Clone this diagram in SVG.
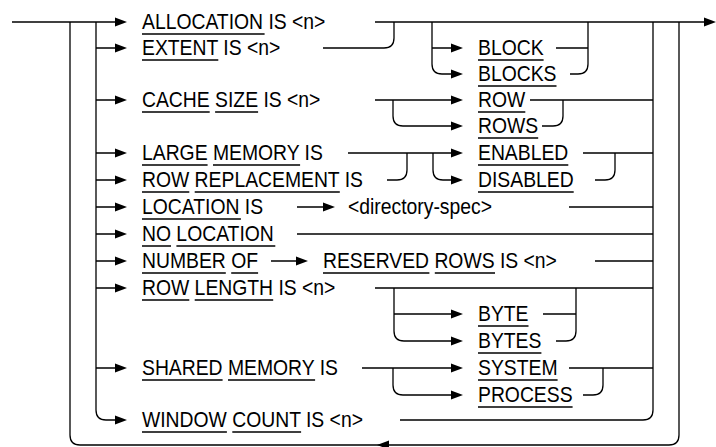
<svg xmlns="http://www.w3.org/2000/svg" xmlns:xlink="http://www.w3.org/1999/xlink" width="716" height="447" viewBox="0 0 716 447">
<style>
.ln{fill:none;stroke:#000;stroke-width:1.3}
.ul{fill:none;stroke:#000;stroke-width:1.3}
.t{font-family:"Liberation Sans",Arial,Helvetica,sans-serif;font-size:21.5px;fill:#000}
.ah{fill:#000}
</style>
<defs>
<path id="ah" d="M0 0 L-12 -4.5 L-12 4.5 Z"/>
<path id="ahl" d="M0 0 L12 -4.5 L12 4.5 Z"/>
</defs>
<rect width="716" height="447" fill="#fff"/>
<g id="connectors">
<path class="ln" d="M12 22 H120"/>
<path class="ln" d="M96 22 V410 Q96 420 106 420 H120"/>
<path class="ln" d="M70 22 V435 Q70 445 80 445 H669 Q679 445 679 435 V22"/>
<path class="ln" d="M96 48 H120 M96 100 H120 M96 153 H120 M96 180 H120 M96 207 H120 M96 234 H120 M96 261 H120 M96 288 H120 M96 368 H120"/>
<path class="ln" d="M375 22 H708"/>
<path class="ln" d="M323 48 H384 Q394 48 394 38 V22"/>
<path class="ln" d="M432 22 V64 Q432 74 442 74 H458 M432 48 H458"/>
<path class="ln" d="M556 48 H588 M570 74 H578 Q588 74 588 64 V22"/>
<path class="ln" d="M375 100 H458 M393 100 V116 Q393 126 403 126 H458"/>
<path class="ln" d="M530 100 H653 M542 126 H553 Q563 126 563 116 V100"/>
<path class="ln" d="M653 22 V410 Q653 420 643 420 H400"/>
<path class="ln" d="M348 153 H458 M387 180 H397 Q407 180 407 170 V153 M433 153 V170 Q433 180 443 180 H458"/>
<path class="ln" d="M583 153 H653 M595 180 H605 Q615 180 615 170 V153"/>
<path class="ln" d="M297 207 H330 M569 207 H653"/>
<path class="ln" d="M297 234 H653"/>
<path class="ln" d="M271 261 H303 M595 261 H653"/>
<path class="ln" d="M375 288 H653 M394 288 V331 Q394 341 404 341 H458 M394 314 H458"/>
<path class="ln" d="M543 314 H576 M576 288 V331 Q576 341 566 341 H556"/>
<path class="ln" d="M362 368 H458 M393 368 V385 Q393 395 403 395 H458"/>
<path class="ln" d="M569 368 H653 M583 395 H593 Q603 395 603 385 V368"/>
<g class="ah">
<use xlink:href="#ah" x="127" y="22"/>
<use xlink:href="#ah" x="127" y="48"/>
<use xlink:href="#ah" x="127" y="100"/>
<use xlink:href="#ah" x="127" y="153"/>
<use xlink:href="#ah" x="127" y="180"/>
<use xlink:href="#ah" x="127" y="207"/>
<use xlink:href="#ah" x="127" y="234"/>
<use xlink:href="#ah" x="127" y="261"/>
<use xlink:href="#ah" x="127" y="288"/>
<use xlink:href="#ah" x="127" y="368"/>
<use xlink:href="#ah" x="127" y="420"/>
<use xlink:href="#ah" x="716" y="22"/>
<use xlink:href="#ah" x="463" y="48"/>
<use xlink:href="#ah" x="463" y="74"/>
<use xlink:href="#ah" x="463" y="100"/>
<use xlink:href="#ah" x="463" y="126"/>
<use xlink:href="#ah" x="463" y="153"/>
<use xlink:href="#ah" x="463" y="180"/>
<use xlink:href="#ah" x="335" y="207"/>
<use xlink:href="#ah" x="308" y="261"/>
<use xlink:href="#ah" x="463" y="314"/>
<use xlink:href="#ah" x="463" y="341"/>
<use xlink:href="#ah" x="463" y="368"/>
<use xlink:href="#ah" x="463" y="395"/>
<use xlink:href="#ahl" x="377" y="445"/>
</g>
</g>
<g id="allocation"><text class="t" transform="translate(142 28.5) scale(0.9 1)">ALLOCATION IS &lt;n&gt;</text><path class="ul" d="M142 34 H264.6"/></g>
<g id="extent"><text class="t" transform="translate(142 54.5) scale(0.9 1)">EXTENT IS &lt;n&gt;</text><path class="ul" d="M142 60 H218.3"/></g>
<g id="block"><text class="t" transform="translate(478 54.5) scale(0.9 1)">BLOCK</text><path class="ul" d="M478 60 H543.6"/></g>
<g id="blocks"><text class="t" transform="translate(478 80.5) scale(0.9 1)">BLOCKS</text><path class="ul" d="M478 86 H556.5"/></g>
<g id="cache"><text class="t" transform="translate(142 106.5) scale(0.9 1)">CACHE SIZE IS &lt;n&gt;</text><path class="ul" d="M142 112 H209.7 M215.1 112 H258.1"/></g>
<g id="row"><text class="t" transform="translate(478 106.5) scale(0.9 1)">ROW</text><path class="ul" d="M478 112 H525.3"/></g>
<g id="rows"><text class="t" transform="translate(478 132.5) scale(0.9 1)">ROWS</text><path class="ul" d="M478 138 H538.2"/></g>
<g id="large"><text class="t" transform="translate(142 159.5) scale(0.9 1)">LARGE MEMORY IS</text><path class="ul" d="M142 165 H207.6 M213 165 H300.1"/></g>
<g id="rowrepl"><text class="t" transform="translate(142 186.5) scale(0.9 1)">ROW REPLACEMENT IS</text><path class="ul" d="M142 192 H189.3 M194.7 192 H339.8"/></g>
<g id="enabled"><text class="t" transform="translate(478 159.5) scale(0.9 1)">ENABLED</text><path class="ul" d="M478 165 H568.3"/></g>
<g id="disabled"><text class="t" transform="translate(478 186.5) scale(0.9 1)">DISABLED</text><path class="ul" d="M478 192 H573.7"/></g>
<g id="location"><text class="t" transform="translate(142 213.5) scale(0.9 1)">LOCATION IS</text><path class="ul" d="M142 219 H240.9"/></g>
<g id="dirspec"><text class="t" transform="translate(348 213.5) scale(0.9 1)">&lt;directory-spec&gt;</text></g>
<g id="nolocation"><text class="t" transform="translate(142 240.5) scale(0.9 1)">NO LOCATION</text><path class="ul" d="M142 246 H171 M176.4 246 H275.3"/></g>
<g id="numberof"><text class="t" transform="translate(142 267.5) scale(0.9 1)">NUMBER OF</text><path class="ul" d="M142 273 H225.8 M231.2 273 H258.1"/></g>
<g id="reserved"><text class="t" transform="translate(323 267.5) scale(0.9 1)">RESERVED ROWS IS &lt;n&gt;</text><path class="ul" d="M323 273 H429.4 M434.8 273 H495"/></g>
<g id="rowlength"><text class="t" transform="translate(142 294.5) scale(0.9 1)">ROW LENGTH IS &lt;n&gt;</text><path class="ul" d="M142 300 H189.3 M194.7 300 H273.2"/></g>
<g id="byte"><text class="t" transform="translate(478 320.5) scale(0.9 1)">BYTE</text><path class="ul" d="M478 326 H528.5"/></g>
<g id="bytes"><text class="t" transform="translate(478 347.5) scale(0.9 1)">BYTES</text><path class="ul" d="M478 353 H541.4"/></g>
<g id="shared"><text class="t" transform="translate(142 374.5) scale(0.9 1)">SHARED MEMORY IS</text><path class="ul" d="M142 380 H222.6 M228 380 H315.1"/></g>
<g id="system"><text class="t" transform="translate(478 374.5) scale(0.9 1)">SYSTEM</text><path class="ul" d="M478 380 H557.6"/></g>
<g id="process"><text class="t" transform="translate(478 401.5) scale(0.9 1)">PROCESS</text><path class="ul" d="M478 407 H572.6"/></g>
<g id="window"><text class="t" transform="translate(142 426.5) scale(0.9 1)">WINDOW COUNT IS &lt;n&gt;</text><path class="ul" d="M142 432 H226.9 M232.3 432 H301.1"/></g>
</svg>
